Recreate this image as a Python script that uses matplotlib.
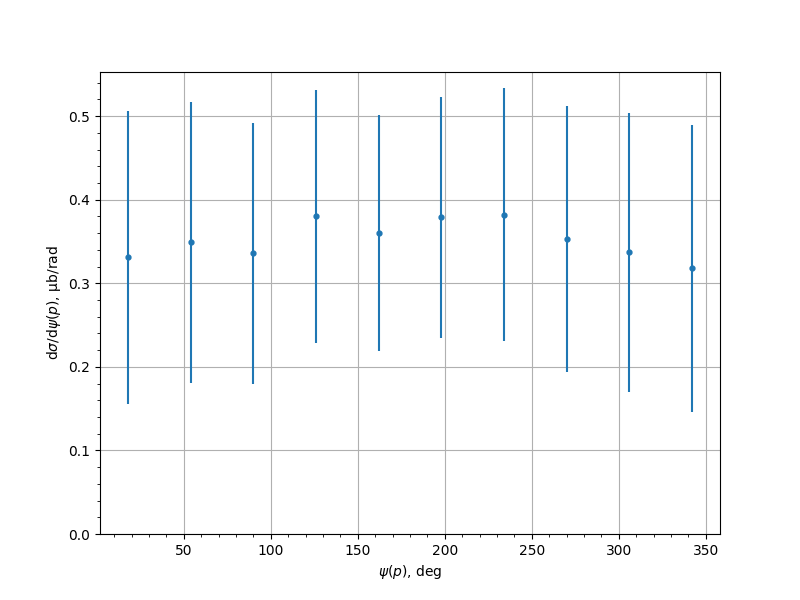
import matplotlib
matplotlib.use("Agg")
import matplotlib.pyplot as plt
from matplotlib.ticker import AutoMinorLocator

psi = [18, 54, 90, 126, 162, 198, 234, 270, 306, 342]
xsec = [0.331, 0.349, 0.336, 0.380, 0.360, 0.379, 0.382, 0.353, 0.337, 0.318]
err = [0.175, 0.168, 0.156, 0.151, 0.141, 0.144, 0.1515, 0.159, 0.167, 0.172]

fig, ax = plt.subplots(figsize=(8, 6), dpi=100)
ax.errorbar(psi, xsec, yerr=err, fmt='o', markersize=3.5, color='#1f77b4')
ax.set_ylim(bottom=0)
ax.xaxis.set_minor_locator(AutoMinorLocator())
ax.yaxis.set_minor_locator(AutoMinorLocator())
ax.grid(True)
ax.set_axisbelow(True)
ax.set_xlabel(r'$\psi(p)$, deg')
ax.set_ylabel(r'd$\sigma$/d$\psi(p)$, μb/rad')
fig.savefig('out.png', dpi=100)
